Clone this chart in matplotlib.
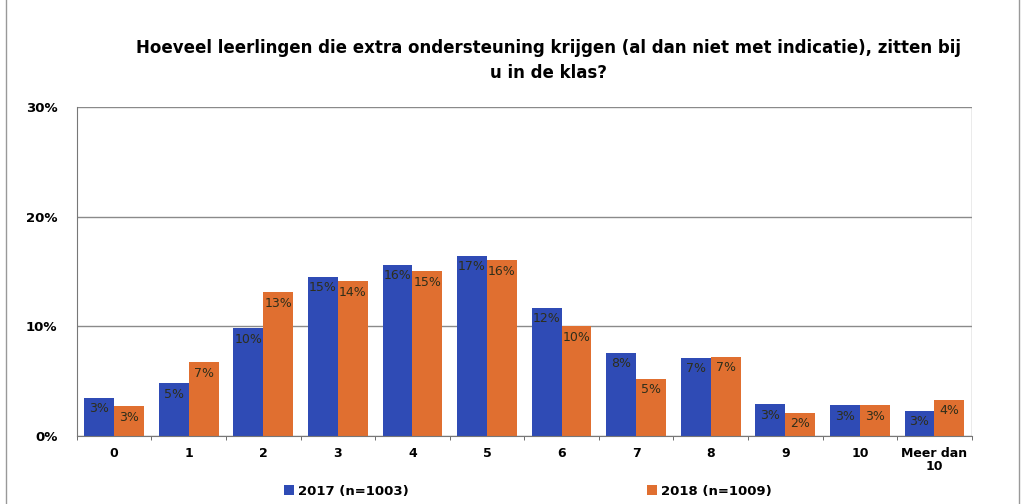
import matplotlib
matplotlib.use('Agg')
import matplotlib.pyplot as plt
import numpy as np

# values (percent)
categories = ['0', '1', '2', '3', '4', '5', '6', '7', '8', '9', '10', 'Meer dan\n10']
values_2017 = [3.5, 4.8, 9.8, 14.5, 15.6, 16.4, 11.7, 7.6, 7.1, 2.9, 2.8, 2.3]
values_2018 = [2.7, 6.7, 13.1, 14.1, 15.0, 16.0, 10.0, 5.2, 7.2, 2.1, 2.8, 3.3]
labels_2017 = ['3%', '5%', '10%', '15%', '16%', '17%', '12%', '8%', '7%', '3%', '3%', '3%']
labels_2018 = ['3%', '7%', '13%', '14%', '15%', '16%', '10%', '5%', '7%', '2%', '3%', '4%']

blue = '#2f4bb5'
orange = '#e06f30'

fig = plt.figure(figsize=(10.25, 5.04), dpi=100)
ax = fig.add_axes([0.075, 0.135, 0.873, 0.653])

x = np.arange(len(categories))
w = 0.4
b1 = ax.bar(x - w / 2, values_2017, w, color=blue, label='2017 (n=1003)')
b2 = ax.bar(x + w / 2, values_2018, w, color=orange, label='2018 (n=1009)')

for bars, labs in ((b1, labels_2017), (b2, labels_2018)):
    for bar, lab in zip(bars, labs):
        ax.text(bar.get_x() + bar.get_width() / 2, bar.get_height() - 0.4, lab,
                ha='center', va='top', fontsize=9, color='#2e2e1a')

ax.set_xlim(-0.5, len(categories) - 0.5)
ax.set_ylim(0, 30)
ax.set_yticks([0, 10, 20, 30])
ax.set_yticklabels(['0%', '10%', '20%', '30%'], fontweight='bold', fontsize=9.5)
ax.yaxis.grid(True, color='#8a8a8a', linewidth=1)
ax.set_axisbelow(True)
ax.tick_params(axis='y', length=0, pad=14)

ax.set_xticks(x)
ax.set_xticklabels(categories, fontweight='bold', fontsize=9, linespacing=1.0)
ax.set_xticks(np.arange(len(categories) + 1) - 0.5, minor=True)
ax.tick_params(axis='x', which='major', length=0, pad=8)
ax.tick_params(axis='x', which='minor', length=3, color='#555555')

for side in ['top', 'right']:
    ax.spines[side].set_visible(False)
ax.spines['left'].set_color('#777777')
ax.spines['bottom'].set_color('#777777')
ax.axvline(len(categories) - 0.5, color='#999999', linewidth=1)

fig.text(0.535, 0.880, 'Hoeveel leerlingen die extra ondersteuning krijgen (al dan niet met indicatie), zitten bij\nu in de klas?',
         ha='center', va='center', fontsize=12, fontweight='bold', linespacing=1.45)

leg = fig.legend(handles=[b1, b2], loc='center', bbox_to_anchor=(0.515, 0.025), ncol=2,
                 frameon=False, fontsize=9.5, columnspacing=18, handlelength=0.8,
                 handleheight=0.8, handletextpad=0.3)
for t in leg.get_texts():
    t.set_fontweight('bold')

fig.patches.append(plt.Rectangle((0.006, -0.01), 0.988, 1.05, transform=fig.transFigure,
                                 fill=False, edgecolor='#999999', linewidth=1))

fig.savefig('out.png', dpi=100)
